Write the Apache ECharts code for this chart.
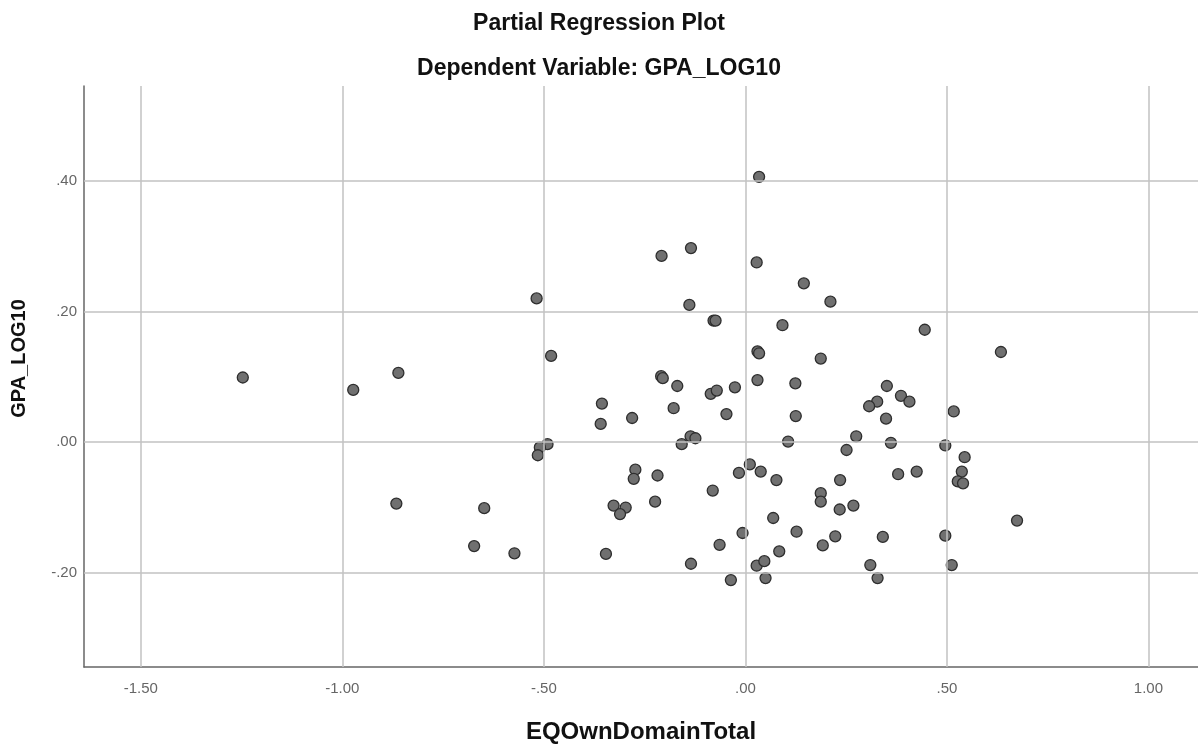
<!DOCTYPE html>
<html lang="en">
<head>
    <meta charset="UTF-8">
    <title>Partial Regression Plot</title>
    <script src="https://cdn.jsdelivr.net/npm/echarts@6.0.0/dist/echarts.min.js"></script>
    <style>
        html, body {
            margin: 0;
            padding: 0;
            background: #ffffff;
        }
        #chart {
            width: 1198px;
            height: 744px;
        }
    </style>
</head>
<body>
    <div id="chart"></div>
    <script>
        // EQOwnDomainTotal (x) and GPA_LOG10 (y)
        const xValues = [
            -1.247, -0.973, -0.861, -0.866, -0.648, -0.673, 0.034, -0.208, -0.135, 0.028,
            0.145, -0.518, -0.139, -0.079, -0.074, 0.092, -0.482, 0.030, 0.034, -0.209,
            -0.205, -0.169, -0.086, -0.071, -0.026, 0.030, 0.124, -0.356, -0.178, -0.281,
            -0.359, -0.047, 0.125, -0.136, -0.124, -0.158, 0.106, -0.491, -0.510, -0.515,
            0.011, -0.016, 0.038, 0.077, -0.273, -0.277, -0.218, -0.081, -0.327, -0.297,
            -0.311, -0.224, 0.069, 0.127, -0.007, -0.064, 0.084, -0.573, -0.346, -0.135,
            0.028, 0.047, -0.036, 0.050, 0.211, 0.445, 0.634, 0.187, 0.351, 0.386,
            0.407, 0.327, 0.307, 0.349, 0.517, 0.275, 0.361, 0.496, 0.251, 0.544,
            0.537, 0.425, 0.379, 0.527, 0.540, 0.235, 0.187, 0.187, 0.234, 0.268,
            0.674, 0.223, 0.341, 0.496, 0.192, 0.310, 0.512, 0.328
        ];
        const yValues = [
            0.099, 0.080, 0.106, -0.094, -0.101, -0.159, 0.406, 0.285, 0.297, 0.275,
            0.243, 0.220, 0.210, 0.186, 0.186, 0.179, 0.132, 0.139, 0.136, 0.101,
            0.098, 0.086, 0.074, 0.079, 0.084, 0.095, 0.090, 0.059, 0.052, 0.037,
            0.028, 0.043, 0.040, 0.009, 0.006, -0.003, 0.001, -0.003, -0.008, -0.020,
            -0.034, -0.047, -0.045, -0.058, -0.042, -0.056, -0.051, -0.074, -0.097, -0.100,
            -0.110, -0.091, -0.116, -0.137, -0.139, -0.157, -0.167, -0.170, -0.171, -0.186,
            -0.189, -0.182, -0.211, -0.208, 0.215, 0.172, 0.138, 0.128, 0.086, 0.071,
            0.062, 0.062, 0.055, 0.036, 0.047, 0.009, -0.001, -0.005, -0.012, -0.023,
            -0.045, -0.045, -0.049, -0.060, -0.063, -0.058, -0.078, -0.091, -0.103, -0.097,
            -0.120, -0.144, -0.145, -0.143, -0.158, -0.188, -0.188, -0.208
        ];
        const xTicks = [-1.5, -1.0, -0.5, 0, 0.5, 1.0];
        const yTicks = [-0.2, 0, 0.2, 0.4];
        const xRange = [-1.641, 1.123];
        const yRange = [-0.344, 0.545];

        const points = xValues.map((x, i) => [x, yValues[i]]);

        // SPSS style: ".40", "-.20", "1.00"
        function spssLabel(v) {
            const s = Math.abs(v).toFixed(2).replace(/^0/, '');
            return (v < 0 ? '-' : '') + s;
        }

        const font = "'Liberation Sans', Arial, Helvetica, sans-serif";
        const gridColor = '#c2c2c2';

        // reference lines at the tick values (gridlines)
        const gridLines = xTicks.map(v => ({ xAxis: v }))
            .concat(yTicks.map(v => ({ yAxis: v })));

        const chart = echarts.init(document.getElementById('chart'));

        const option = {
            backgroundColor: '#ffffff',
            animation: false,
            title: [
                {
                    text: 'Partial Regression Plot',
                    left: 'center',
                    top: 7,
                    textStyle: { fontFamily: font, fontSize: 23, fontWeight: 'bold', color: '#111' }
                },
                {
                    text: 'Dependent Variable: GPA_LOG10',
                    left: 'center',
                    top: 52,
                    textStyle: { fontFamily: font, fontSize: 23, fontWeight: 'bold', color: '#111' }
                }
            ],
            grid: {
                left: 84,
                right: 0,
                top: 86,
                bottom: 77,
                containLabel: false,
                outerBoundsMode: 'none'
            },
            xAxis: {
                type: 'value',
                min: xRange[0],
                max: xRange[1],
                name: 'EQOwnDomainTotal',
                nameLocation: 'middle',
                nameGap: 53,
                nameTextStyle: { fontFamily: font, fontSize: 24, fontWeight: 'bold', color: '#111' },
                axisLine: { show: true, onZero: false, lineStyle: { color: '#666', width: 1.5 } },
                axisTick: { show: false },
                axisLabel: {
                    customValues: xTicks,
                    formatter: spssLabel,
                    margin: 14,
                    fontFamily: font,
                    fontSize: 15,
                    color: '#666'
                },
                splitLine: { show: false }
            },
            yAxis: {
                type: 'value',
                min: yRange[0],
                max: yRange[1],
                name: 'GPA_LOG10',
                nameLocation: 'middle',
                nameRotate: 90,
                nameGap: 55,
                nameTextStyle: {
                    fontFamily: font, fontSize: 20, fontWeight: 'bold', color: '#111',
                    padding: [0, 0, 0, 36]
                },
                axisLine: { show: true, onZero: false, lineStyle: { color: '#666', width: 1.5 } },
                axisTick: { show: false },
                axisLabel: {
                    customValues: yTicks,
                    formatter: spssLabel,
                    margin: 7,
                    fontFamily: font,
                    fontSize: 15,
                    color: '#666'
                },
                splitLine: { show: false }
            },
            series: [
                {
                    type: 'scatter',
                    data: [],
                    z: 1,
                    markLine: {
                        silent: true,
                        symbol: ['none', 'none'],
                        label: { show: false },
                        lineStyle: { type: 'solid', color: gridColor, width: 1.5 },
                        data: gridLines
                    }
                },
                {
                    type: 'scatter',
                    data: points,
                    z: 3,
                    symbolSize: 11,
                    itemStyle: {
                        color: '#707070',
                        borderColor: '#2e2e2e',
                        borderWidth: 1.3,
                        opacity: 1
                    }
                }
            ]
        };

        chart.setOption(option);
    </script>
</body>
</html>
